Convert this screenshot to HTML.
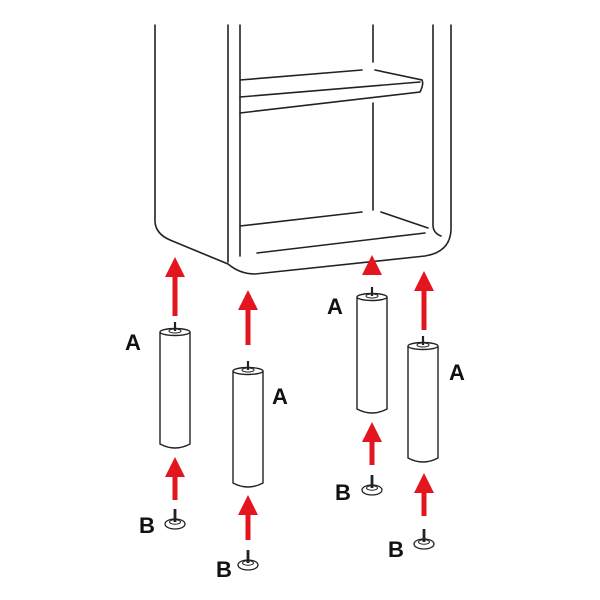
<!DOCTYPE html>
<html><head><style>body{margin:0;background:#fff}svg{display:block}</style></head><body>
<svg width="600" height="600" viewBox="0 0 600 600" xmlns="http://www.w3.org/2000/svg">
<defs>
<marker id="ah" markerWidth="4" markerHeight="4" refX="1" refY="2" orient="auto"><path d="M0,0 L4,2 L0,4 z" fill="#e3161f"/></marker>
<g id="leg"><path d="M0,4 L0,116 Q15,124 30,116 L30,4" fill="#fff" stroke="#222" stroke-width="1.4"/>
<ellipse cx="15" cy="4" rx="15" ry="3.5" fill="#fff" stroke="#222" stroke-width="1.4"/>
<ellipse cx="15" cy="3" rx="6" ry="2" fill="none" stroke="#222" stroke-width="1"/>
<line x1="15" y1="3" x2="15" y2="-6" stroke="#222" stroke-width="2.2"/></g>
<g id="foot"><ellipse cx="0" cy="6" rx="10" ry="5" fill="#fff" stroke="#222" stroke-width="1.3"/>
<ellipse cx="0" cy="4" rx="5.5" ry="2.2" fill="none" stroke="#222" stroke-width="1"/>
<line x1="0" y1="4" x2="0" y2="-9" stroke="#222" stroke-width="2.8"/></g>
</defs>
<g fill="none" stroke="#222" stroke-width="1.6" stroke-linecap="round">
<path d="M155,25 L155,222 Q156,234 170,240 L228,264 Q240,274 255,274 L425,256 Q450,252 451,230 L451,25"/>
<path d="M228,25 L228,262"/>
<path d="M240,25 L240,256"/>
<path d="M433,25 L433,225 Q433,233 441,236"/>
<path d="M240,80 L362,70 M375,70 L422,80 Q424,84 420,92 L240,113"/>
<path d="M240,97 L420,82"/>
<path d="M373,25 L373,62 M373,103 L373,210"/>
<path d="M240,226 L362,212 M381,212 L428,228"/>
<path d="M257,253 L425,233"/>
</g>
<use href="#leg" x="160" y="328"/>
<use href="#leg" x="233" y="367"/>
<use href="#leg" x="357" y="293"/>
<use href="#leg" x="408" y="342"/>
<use href="#foot" x="175" y="518"/>
<use href="#foot" x="248" y="559"/>
<use href="#foot" x="372" y="484"/>
<use href="#foot" x="424" y="538"/>
<g stroke="#e3161f" stroke-width="5" marker-end="url(#ah)">
<line x1="175" y1="316" x2="175" y2="272"/>
<line x1="248" y1="345" x2="248" y2="305"/>
<line x1="372" y1="272" x2="372" y2="270"/>
<line x1="424" y1="330" x2="424" y2="286"/>
<line x1="175" y1="500" x2="175" y2="472"/>
<line x1="248" y1="540" x2="248" y2="510"/>
<line x1="372" y1="465" x2="372" y2="437"/>
<line x1="424" y1="516" x2="424" y2="488"/>
</g>
<g font-family="Liberation Sans, sans-serif" font-weight="bold" font-size="22" fill="#111">
<text x="125" y="350">A</text>
<text x="272" y="404">A</text>
<text x="327" y="314">A</text>
<text x="449" y="380">A</text>
<text x="139" y="533">B</text>
<text x="216" y="577">B</text>
<text x="335" y="500">B</text>
<text x="388" y="557">B</text>
</g>
</svg>
</body></html>
